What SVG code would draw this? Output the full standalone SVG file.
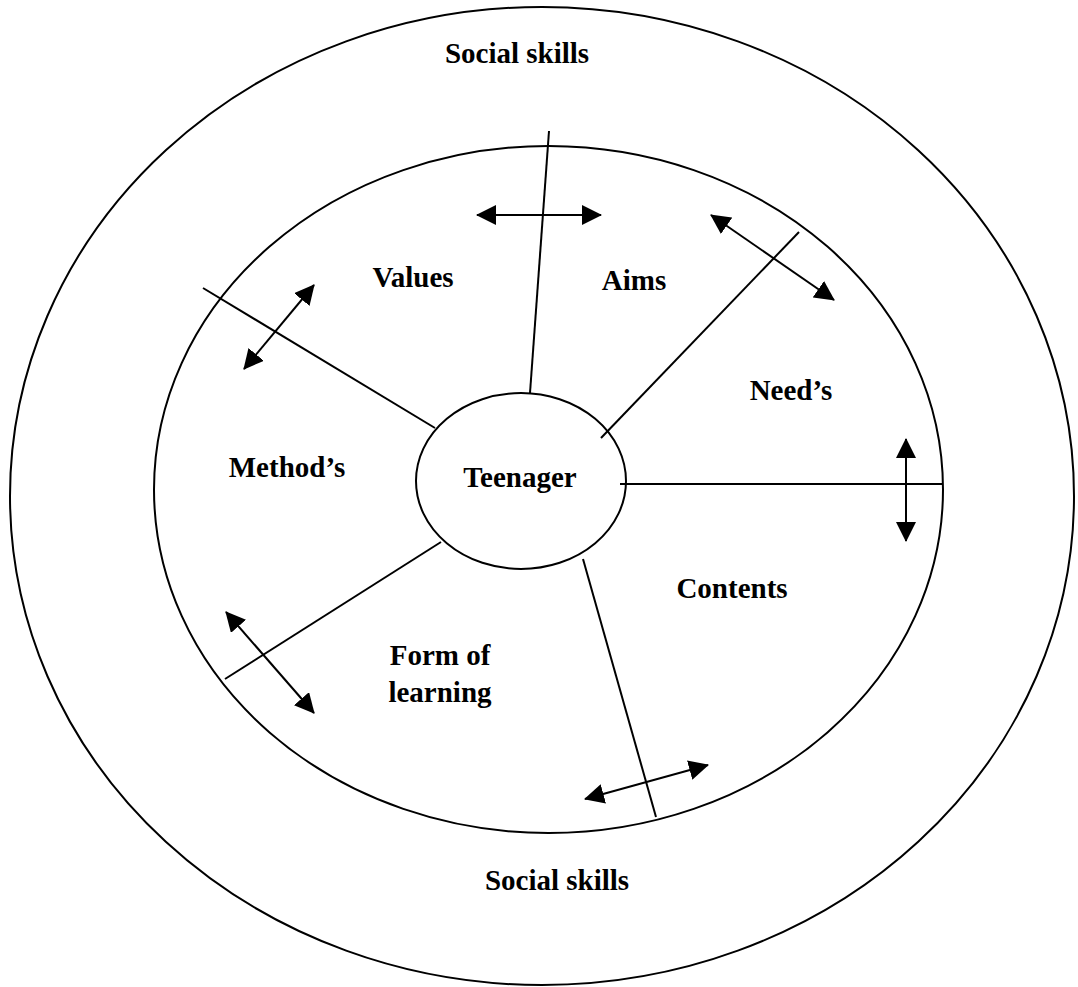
<svg xmlns="http://www.w3.org/2000/svg" width="1078" height="987" viewBox="0 0 1078 987">
<style>
.ring{fill:none;stroke:#000;stroke-width:2}
.ln{fill:none;stroke:#000;stroke-width:2}
.arr{fill:none;stroke:#000;stroke-width:2;marker-start:url(#ah);marker-end:url(#ah)}
text{font-family:"Liberation Serif","Times New Roman",serif;font-weight:bold;font-size:29px;fill:#000;text-anchor:middle}
</style>
<defs>
<marker id="ah" viewBox="0 0 20 20" refX="19" refY="10" markerWidth="20" markerHeight="20" markerUnits="userSpaceOnUse" orient="auto-start-reverse">
<path d="M0,0 L20,10 L0,20 z" fill="#000"/>
</marker>
</defs>
<rect width="1078" height="987" fill="#fff"/>
<g id="outer-ring">
<ellipse class="ring" cx="542" cy="496" rx="532" ry="489"/>
<text x="517" y="63">Social skills</text>
<text x="557" y="890">Social skills</text>
</g>
<g id="inner-ring">
<ellipse class="ring" cx="548.5" cy="489.5" rx="394.5" ry="343.5"/>
</g>
<g id="connectors">
<line class="ln" x1="530" y1="393" x2="549" y2="131"/>
<line class="ln" x1="601" y1="438" x2="799" y2="232"/>
<line class="ln" x1="620" y1="484" x2="943" y2="484"/>
<line class="ln" x1="583" y1="559" x2="656" y2="817"/>
<line class="ln" x1="441" y1="542" x2="225" y2="679"/>
<line class="ln" x1="435" y1="428" x2="203" y2="288"/>
<line class="arr" x1="477" y1="215" x2="601" y2="215"/>
<line class="arr" x1="711" y1="215" x2="834" y2="300"/>
<line class="arr" x1="906" y1="439" x2="906" y2="541"/>
<line class="arr" x1="585" y1="799" x2="708" y2="765"/>
<line class="arr" x1="226" y1="612" x2="314" y2="713"/>
<line class="arr" x1="314" y1="285" x2="244" y2="369"/>
</g>
<g id="teenager">
<ellipse class="ring" cx="521" cy="481" rx="105" ry="88"/>
<text x="520" y="487">Teenager</text>
</g>
<g id="values"><text x="413" y="287">Values</text></g>
<g id="aims"><text x="634" y="290">Aims</text></g>
<g id="needs"><text x="791" y="400">Need’s</text></g>
<g id="contents"><text x="732" y="598">Contents</text></g>
<g id="form-of-learning"><text x="440" y="665">Form of</text><text x="440" y="702">learning</text></g>
<g id="methods"><text x="287" y="477">Method’s</text></g>
</svg>
